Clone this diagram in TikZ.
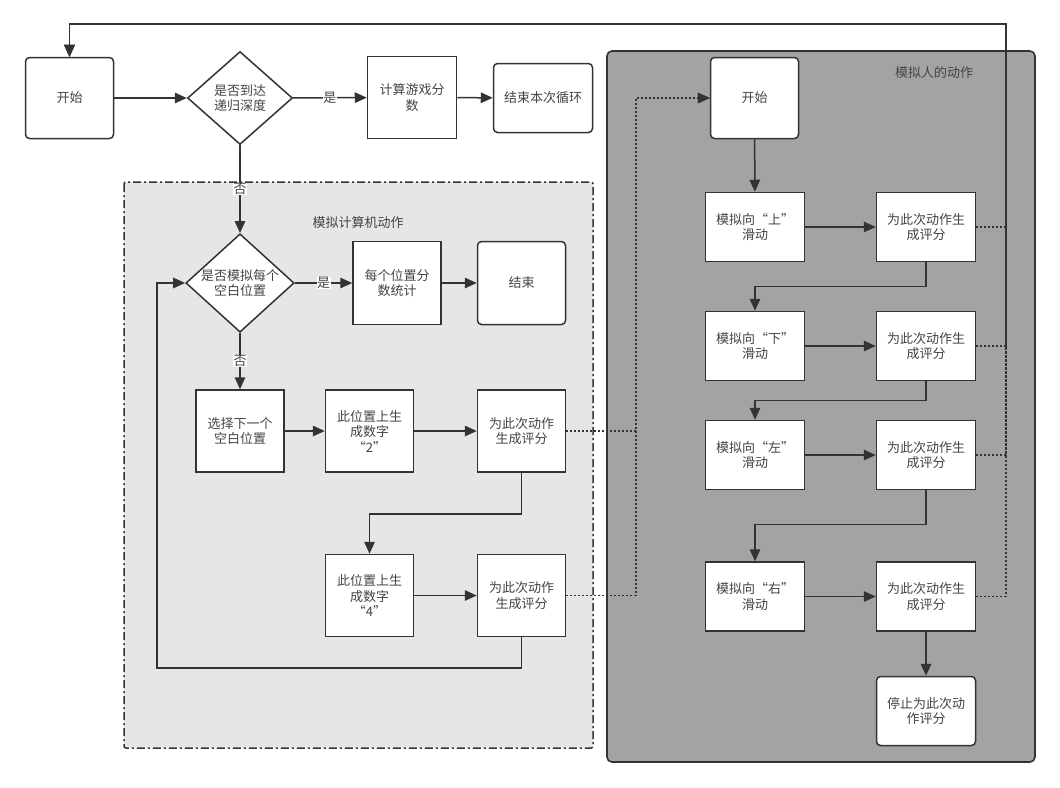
\documentclass[tikz,border=0pt]{standalone}
\usepackage{fontspec}
\setmainfont{Noto Sans CJK SC}
\usetikzlibrary{arrows.meta,shapes.geometric}
\definecolor{ink}{HTML}{333333}
\definecolor{txt}{HTML}{444444}
\definecolor{lightbg}{HTML}{E6E6E6}
\definecolor{darkbg}{HTML}{A3A3A3}
\begin{document}
\begin{tikzpicture}[x=1pt,y=-1pt,
  font=\fontsize{13}{15.5}\selectfont,
  box/.style={draw=ink, line width=1.5pt, fill=white, text=txt, align=center, inner sep=1pt, minimum width=#1},
  box/.default=88pt,
  rbox/.style={box=#1, rounded corners=4pt},
  rbox/.default=88pt,
  dia/.style={diamond, draw=ink, line width=1.5pt, fill=white, text=txt, align=center, inner sep=0pt, shape aspect=1.1, minimum width=105pt, minimum height=93pt},
  arr/.style={draw=ink, line width=1.5pt, -{Triangle[length=12pt,width=10.5pt]}},
  dotl/.style={draw=ink, line width=1.3pt, dash pattern=on 2pt off 2pt},
  dotarr/.style={dotl, -{Triangle[length=12pt,width=10.5pt]}},
  lbl/.style={fill=white, text=txt, inner sep=0.5pt},
  ttl/.style={text=txt}
]
\useasboundingbox (0,0) rectangle (1060,787);

% containers
\draw[fill=lightbg, draw=ink, line width=1.5pt, dash pattern=on 8pt off 3pt on 2pt off 3pt, rounded corners=2pt] (124,182) rectangle (593,748);
\draw[fill=darkbg, draw=ink, line width=1.6pt, rounded corners=5pt] (607,51) rectangle (1035,762);
\node[ttl] (t1) at (358,223) {模拟计算机动作};
\node[ttl] (t2) at (934,73) {模拟人的动作};

% top row
\node[rbox, minimum height=81pt] (start1) at (69.5,98) {开始};
\node[dia] (d1) at (240,98) {是否到达\\递归深度};
\node[box=89pt, minimum height=82pt] (calc) at (412,97.5) {计算游戏分\\数};
\node[rbox=99pt, minimum height=69pt] (endloop) at (543,98) {结束本次循环};

% computer simulation
\node[dia] (d2) at (240,283) {是否模拟每个\\空白位置};
\node[box, minimum height=83pt] (stat) at (397,283) {每个位置分\\数统计};
\node[rbox, minimum height=83pt] (end2) at (521.5,283) {结束};
\node[box, minimum height=82pt] (sel) at (240,431) {选择下一个\\空白位置};
\node[box, minimum height=82pt] (gen2) at (369.5,431) {此位置上生\\成数字\\“2”};
\node[box, minimum height=82pt] (sc1) at (521.5,431) {为此次动作\\生成评分};
\node[box, minimum height=82pt] (gen4) at (369.5,595.5) {此位置上生\\成数字\\“4”};
\node[box, minimum height=82pt] (sc2) at (521.5,595.5) {为此次动作\\生成评分};

% human simulation
\node[rbox, minimum height=81pt] (start2) at (754.5,98) {开始};
\node[box=99pt, minimum height=69pt] (up) at (755,227) {模拟向“上”\\滑动};
\node[box=99pt, minimum height=69pt] (scU) at (926,227) {为此次动作生\\成评分};
\node[box=99pt, minimum height=69pt] (down) at (755,346) {模拟向“下”\\滑动};
\node[box=99pt, minimum height=69pt] (scD) at (926,346) {为此次动作生\\成评分};
\node[box=99pt, minimum height=69pt] (left) at (755,455) {模拟向“左”\\滑动};
\node[box=99pt, minimum height=69pt] (scL) at (926,455) {为此次动作生\\成评分};
\node[box=99pt, minimum height=69pt] (right) at (755,596.5) {模拟向“右”\\滑动};
\node[box=99pt, minimum height=69pt] (scR) at (926,596.5) {为此次动作生\\成评分};
\node[rbox=99pt, minimum height=69pt] (stop) at (926,711) {停止为此次动\\作评分};

\coordinate (loopL) at (157,668);
\coordinate (dl) at (636,98);
\coordinate (topR) at (1006,24);

% connectors top
\draw[arr] (start1) -- (d1);
\draw[arr] (d1) -- node[lbl]{是} (calc);
\draw[arr] (calc) -- (endloop);
\draw[arr] (d1) -- node[lbl]{否} (d2);

% connectors computer
\draw[arr] (d2) -- node[lbl]{是} (stat);
\draw[arr] (stat) -- (end2);
\draw[arr] (d2) -- node[lbl]{否} (sel);
\draw[arr] (sel) -- (gen2);
\draw[arr] (gen2) -- (sc1);
\draw[arr] (sc1.south) -- ++(0,41) -| (gen4.north);
\draw[arr] (gen4) -- (sc2);
\draw[arr] (sc2.south) |- (loopL) |- (d2.west);

% dotted to human start
\draw[dotarr] (sc1.east) -- (sc1.east -| dl) |- (start2.west);
\draw[dotarr] (sc2.east) -- (sc2.east -| dl) |- (start2.west);

% connectors human
\draw[arr] (start2) -- (up);
\draw[arr] (up) -- (scU);
\draw[arr] (scU.south) -- ++(0,24) -| (down.north);
\draw[arr] (down) -- (scD);
\draw[arr] (scD.south) -- ++(0,19) -| (left.north);
\draw[arr] (left) -- (scL);
\draw[arr] (scL.south) -- ++(0,34) -| (right.north);
\draw[arr] (right) -- (scR);
\draw[arr] (scR) -- (stop);

% dotted back to top start
\draw[dotarr] (scU.east) -| (topR) -| (start1.north);
\draw[dotarr] (scD.east) -| (topR) -| (start1.north);
\draw[dotarr] (scL.east) -| (topR) -| (start1.north);
\draw[dotarr] (scR.east) -| (topR) -| (start1.north);
\end{tikzpicture}
\end{document}
